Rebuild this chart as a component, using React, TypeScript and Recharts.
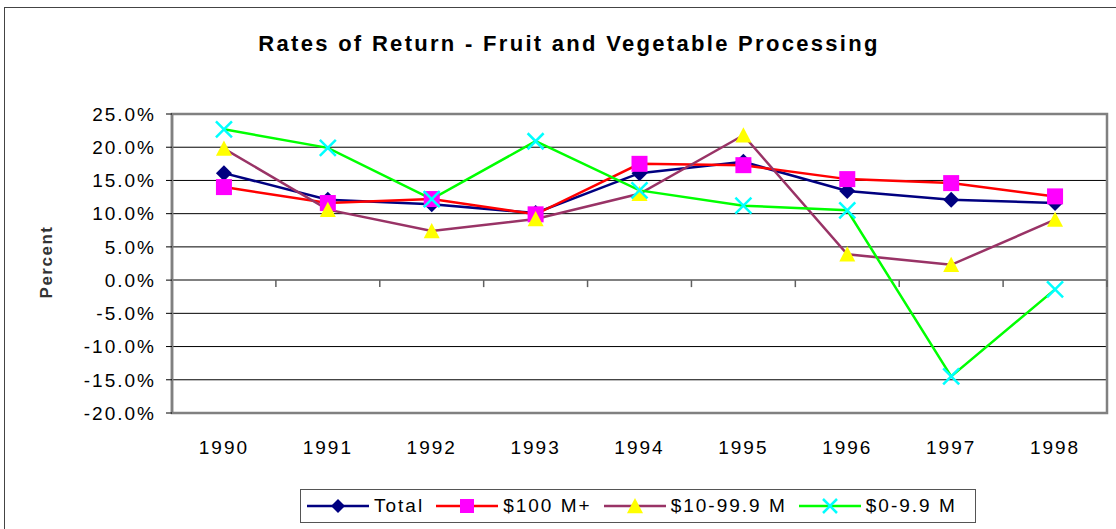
import React from "react";
import {
  LineChart,
  Line,
  XAxis,
  YAxis,
  CartesianGrid,
  ReferenceLine,
  ReferenceArea,
} from "recharts";

const years = ["1990", "1991", "1992", "1993", "1994", "1995", "1996", "1997", "1998"];
const total = [16.1, 12.1, 11.4, 10.1, 16.1, 17.8, 13.4, 12.1, 11.6];
const big = [14.0, 11.6, 12.2, 9.9, 17.5, 17.3, 15.2, 14.6, 12.6];
const mid = [19.8, 10.6, 7.4, 9.2, 13.0, 21.8, 3.9, 2.3, 9.1];
const small = [22.7, 19.9, 12.2, 20.9, 13.5, 11.2, 10.5, -14.5, -1.4];
const yTicks = [-20, -15, -10, -5, 0, 5, 10, 15, 20, 25];

const data = years.map((year, i) => ({
  year,
  total: total[i],
  big: big[i],
  mid: mid[i],
  small: small[i],
}));

const FONT = "'Liberation Sans', Arial, sans-serif";

const Diamond = ({ cx, cy, s = 8 }: any) => (
  <path d={`M${cx},${cy - s}L${cx + s},${cy}L${cx},${cy + s}L${cx - s},${cy}Z`} fill="#000080" />
);
const Square = ({ cx, cy, s = 8 }: any) => (
  <rect x={cx - s} y={cy - s} width={s * 2} height={s * 2} fill="#FF00FF" />
);
const Triangle = ({ cx, cy, s = 8 }: any) => (
  <path d={`M${cx},${cy - s}L${cx + s},${cy + s * 0.9}L${cx - s},${cy + s * 0.9}Z`} fill="#FFFF00" />
);
const Cross = ({ cx, cy, s = 8 }: any) => (
  <path
    d={`M${cx - s},${cy - s}L${cx + s},${cy + s}M${cx + s},${cy - s}L${cx - s},${cy + s}`}
    stroke="#00FFFF"
    strokeWidth={2.5}
    fill="none"
  />
);

const dotOf = (Comp: any) => (p: any) =>
  p.cx == null ? <g key={p.key} /> : <Comp key={p.key} cx={p.cx} cy={p.cy} />;

const ZeroAxis = (p: any) => {
  const { x1, y1, x2 } = p;
  const step = (x2 - x1) / years.length;
  return (
    <g>
      <line x1={x1} y1={y1} x2={x2} y2={y1} stroke="#808080" strokeWidth={2} />
      {years.map((_, i) => (
        <line
          key={i}
          x1={x1 + step * (i + 1)}
          x2={x1 + step * (i + 1)}
          y1={y1}
          y2={y1 + 7}
          stroke="#606060"
          strokeWidth={1.5}
        />
      ))}
    </g>
  );
};

const legendItems = [
  { label: "Total", color: "#000080", Marker: Diamond, s: 7 },
  { label: "$100 M+", color: "#FF0000", Marker: Square, s: 7 },
  { label: "$10-99.9 M", color: "#993366", Marker: Triangle, s: 8 },
  { label: "$0-9.9 M", color: "#00FF00", Marker: Cross, s: 7 },
];

export default function App() {
  return (
    <div
      style={{
        position: "absolute",
        left: 0,
        top: 0,
        width: 1116,
        height: 529,
        overflow: "hidden",
        background: "#fff",
        fontFamily: FONT,
      }}
    >
      <div
        style={{
          position: "absolute",
          left: 4,
          top: 7,
          width: 1200,
          height: 600,
          border: "1.5px solid #444",
        }}
      />
      <div
        style={{
          position: "absolute",
          left: 0,
          width: 1138,
          top: 32,
          textAlign: "center",
          fontSize: 22,
          fontWeight: "bold",
          letterSpacing: 2.3,
          lineHeight: "24px",
        }}
      >
        Rates of Return - Fruit and Vegetable Processing
      </div>
      <div
        style={{
          position: "absolute",
          left: 47,
          top: 262,
          transform: "translate(-50%, -50%) rotate(-90deg)",
          fontSize: 17,
          fontWeight: "bold",
          letterSpacing: 1.5,
          color: "#333",
          whiteSpace: "nowrap",
        }}
      >
        Percent
      </div>
      <div style={{ position: "absolute", left: 0, top: 0 }}>
        <LineChart
          width={1116}
          height={529}
          data={data}
          margin={{ top: 114, right: 9, left: 72, bottom: 56 }}
        >
          <CartesianGrid vertical={false} stroke="#000" strokeWidth={1} />
          <XAxis
            dataKey="year"
            scale="band"
            axisLine={false}
            tickLine={false}
            tickSize={0}
            tickMargin={28}
            height={60}
            tick={{ fontSize: 19, fill: "#000", letterSpacing: 2 }}
          />
          <YAxis
            domain={[-20, 25]}
            ticks={yTicks}
            interval={0}
            width={100}
            tickSize={6}
            tickMargin={10}
            axisLine={{ stroke: "#808080", strokeWidth: 2.5 }}
            tickLine={{ stroke: "#000" }}
            tickFormatter={(v: number) => `${v.toFixed(1)}%`}
            tick={{ fontSize: 19, fill: "#000", letterSpacing: 2 }}
          />
          <ReferenceArea y1={-20} y2={25} fill="none" stroke="#808080" strokeWidth={2.5} />
          <ReferenceLine y={0} shape={ZeroAxis} />
          <Line
            dataKey="total"
            stroke="#000080"
            strokeWidth={2.5}
            dot={dotOf(Diamond)}
            isAnimationActive={false}
          />
          <Line
            dataKey="big"
            stroke="#FF0000"
            strokeWidth={2.5}
            dot={dotOf(Square)}
            isAnimationActive={false}
          />
          <Line
            dataKey="mid"
            stroke="#993366"
            strokeWidth={2.5}
            dot={dotOf(Triangle)}
            isAnimationActive={false}
          />
          <Line
            dataKey="small"
            stroke="#00FF00"
            strokeWidth={2.5}
            dot={dotOf(Cross)}
            isAnimationActive={false}
          />
        </LineChart>
      </div>
      <div
        style={{
          position: "absolute",
          left: 300,
          top: 489,
          width: 676,
          height: 34,
          boxSizing: "border-box",
          border: "1.5px solid #555",
          display: "flex",
          alignItems: "center",
          paddingLeft: 6,
          fontSize: 19,
          letterSpacing: 2,
        }}
      >
        {legendItems.map(({ label, color, Marker, s }) => (
          <div key={label} style={{ display: "flex", alignItems: "center", marginRight: 12 }}>
            <svg width={62} height={20}>
              <line x1={0} y1={10} x2={62} y2={10} stroke={color} strokeWidth={2.5} />
              <Marker cx={31} cy={10} s={s} />
            </svg>
            <span style={{ marginLeft: 5, whiteSpace: "nowrap" }}>{label}</span>
          </div>
        ))}
      </div>
    </div>
  );
}
